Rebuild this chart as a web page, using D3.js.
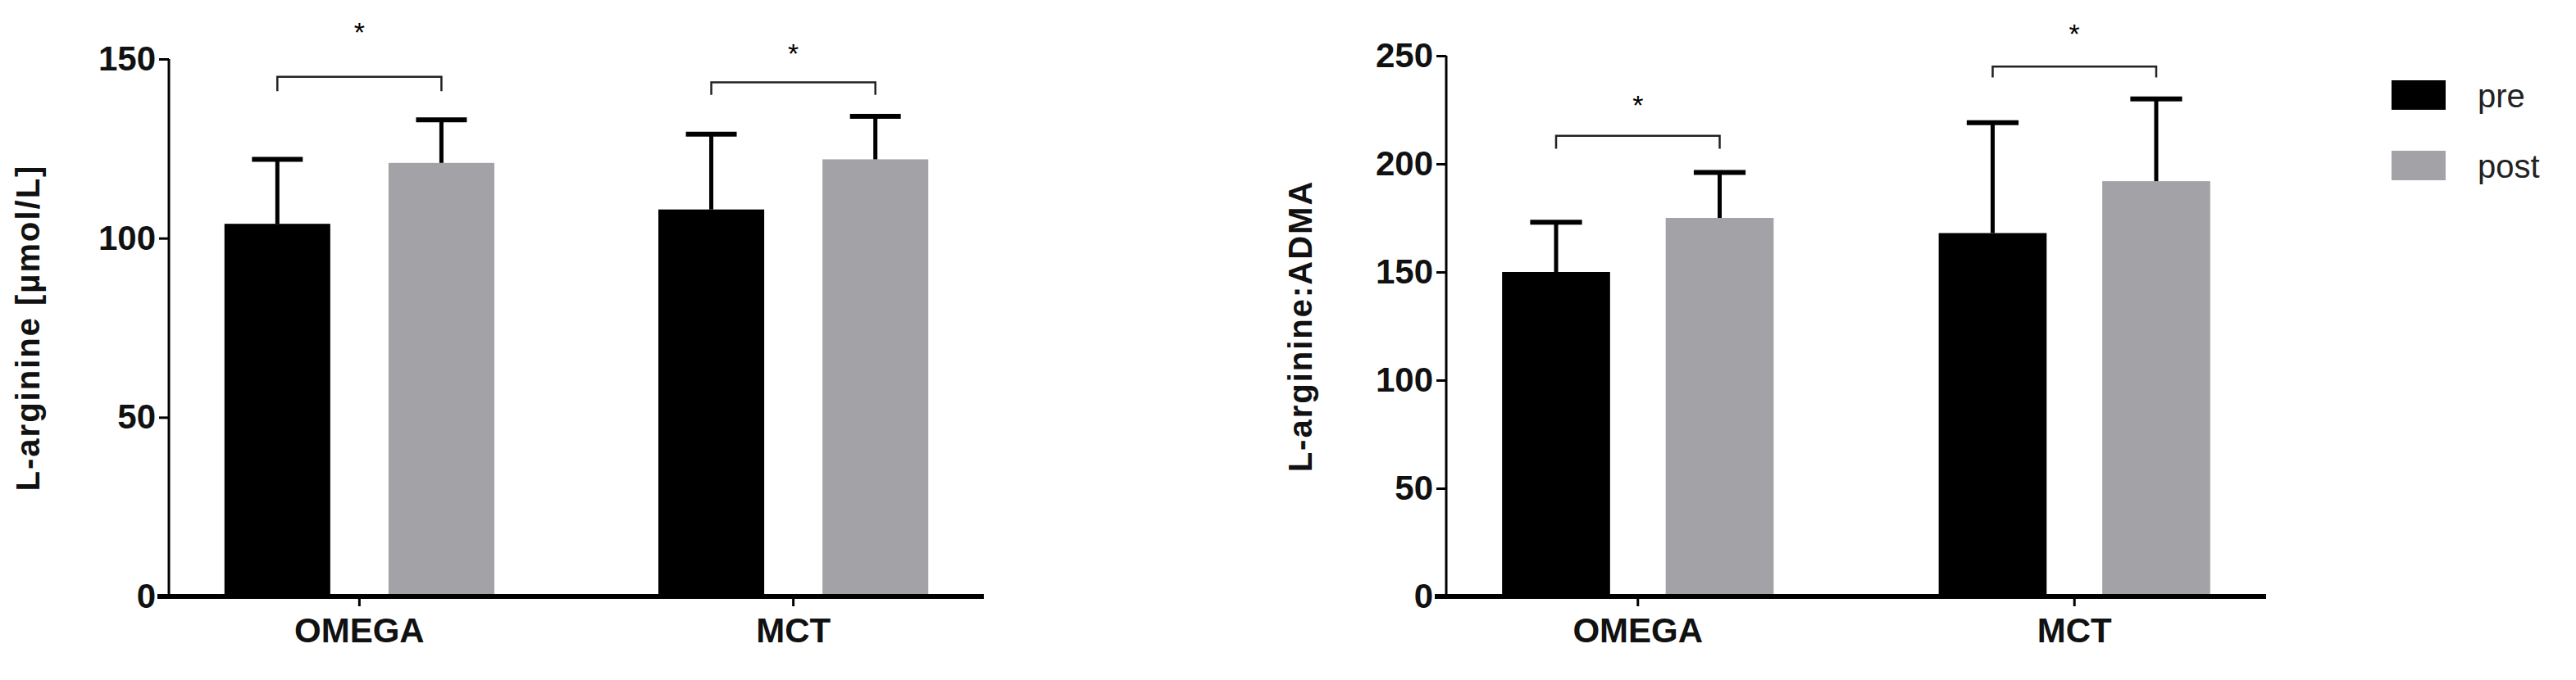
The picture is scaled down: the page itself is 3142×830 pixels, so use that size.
<!DOCTYPE html><html><head><meta charset="utf-8">
<script src="https://cdn.jsdelivr.net/npm/d3@7"></script>
<style>body{margin:0;background:#fff}</style></head><body>
<svg id="c" width="3142" height="830"></svg>
<script>
const categories=["OMEGA","MCT"];
const series=["pre","post"];
const colors=["#000000","#a3a2a7"];
const argMean=[[104,121],[108,122]];
const argErr=[[122,133],[129,134]];
const ratioMean=[[150,175],[168,192]];
const ratioErr=[[173,196],[219,230]];
const argTicks=[0,50,100,150];
const ratioTicks=[0,50,100,150,200,250];
const argSig=[{c:0,y:145,leg:141,star:158},{c:1,y:143.5,leg:140,star:152}];
const ratioSig=[{c:0,y:213,leg:207,star:228},{c:1,y:245,leg:240,star:261}];

const svg=d3.select("#c");
const F="'Liberation Sans Narrow','Arial Narrow',Arial,sans-serif";
function panel(o){
  const g=svg.append("g");
  const y=d3.scaleLinear().domain([0,o.max]).range([728,o.top]);
  const x=d3.scaleBand().domain(categories).range([o.x0,o.x1]).paddingInner(0.378).paddingOuter(0.128);
  const inner=d3.scaleBand().domain(series).range([0,x.bandwidth()]).paddingInner(o.pi).paddingOuter(0);
  categories.forEach((c,ci)=>series.forEach((s,si)=>{
    const bx=x(c)+inner(s), w=inner.bandwidth(), cx=bx+w/2;
    g.append("rect").attr("x",bx).attr("y",y(o.mean[ci][si])).attr("width",w).attr("height",y(0)-y(o.mean[ci][si])).attr("fill",colors[si]);
    g.append("line").attr("x1",cx).attr("x2",cx).attr("y1",y(o.mean[ci][si])).attr("y2",y(o.err[ci][si])).attr("stroke","#000").attr("stroke-width",5);
    g.append("line").attr("x1",cx-w*0.24).attr("x2",cx+w*0.24).attr("y1",y(o.err[ci][si])).attr("y2",y(o.err[ci][si])).attr("stroke","#000").attr("stroke-width",6);
  }));
  o.sig.forEach(s=>{
    const c=categories[s.c];
    const a=x(c)+inner("pre")+inner.bandwidth()/2, b=x(c)+inner("post")+inner.bandwidth()/2;
    g.append("path").attr("d",`M${a},${y(s.leg)}V${y(s.y)}H${b}V${y(s.leg)}`).attr("fill","none").attr("stroke","#222").attr("stroke-width",2.5);
    g.append("text").attr("x",(a+b)/2).attr("y",y(s.star)+14).attr("text-anchor","middle").attr("font-family",F).attr("font-size",34).text("*");
  });
  const ya=g.append("g").attr("transform",`translate(${o.x0},0)`).call(d3.axisLeft(y).tickValues(o.ticks).tickSize(12).tickPadding(4));
  ya.select(".domain").attr("stroke-width",3).attr("d",`M0,${y(o.max)}V${y(0)}`);
  ya.selectAll(".tick line").attr("stroke-width",3);
  ya.selectAll("text").attr("font-family",F).attr("font-weight","bold").attr("font-size",42).attr("fill","#111");
  const xa=g.append("g").attr("transform",`translate(0,${y(0)})`).call(d3.axisBottom(x).tickSize(12).tickPadding(14));
  xa.select(".domain").attr("stroke-width",6).attr("d",`M${o.x0-14},0H${o.x1}`);
  xa.selectAll(".tick line").attr("stroke-width",3);
  xa.selectAll("text").attr("font-family",F).attr("font-weight","bold").attr("font-size",42).attr("fill","#111");
  g.append("text").attr("transform",`translate(${o.tx},${(y(0)+y(o.max))/2}) rotate(-90)`).attr("text-anchor","middle")
   .attr("font-family","Arial,'Liberation Sans',sans-serif").attr("font-weight","bold").attr("font-size",40).attr("letter-spacing",2).attr("fill","#111").text(o.title);
}
panel({x0:206,x1:1200,top:72,max:150,ticks:argTicks,mean:argMean,err:argErr,sig:argSig,pi:0.355,tx:48,title:"L-arginine [µmol/L]"});
panel({x0:1764,x1:2764,top:68,max:250,ticks:ratioTicks,mean:ratioMean,err:ratioErr,sig:ratioSig,pi:0.34,tx:1600,title:"L-arginine:ADMA"});
const lg=svg.append("g");
series.forEach((s,i)=>{
  lg.append("rect").attr("x",2917).attr("y",98+i*86).attr("width",66).attr("height",36).attr("fill",colors[i]);
  lg.append("text").attr("x",3022).attr("y",131+i*86).attr("font-family","Arial,'Liberation Sans',sans-serif").attr("font-size",40).attr("fill","#222").text(s);
});
</script></body></html>
